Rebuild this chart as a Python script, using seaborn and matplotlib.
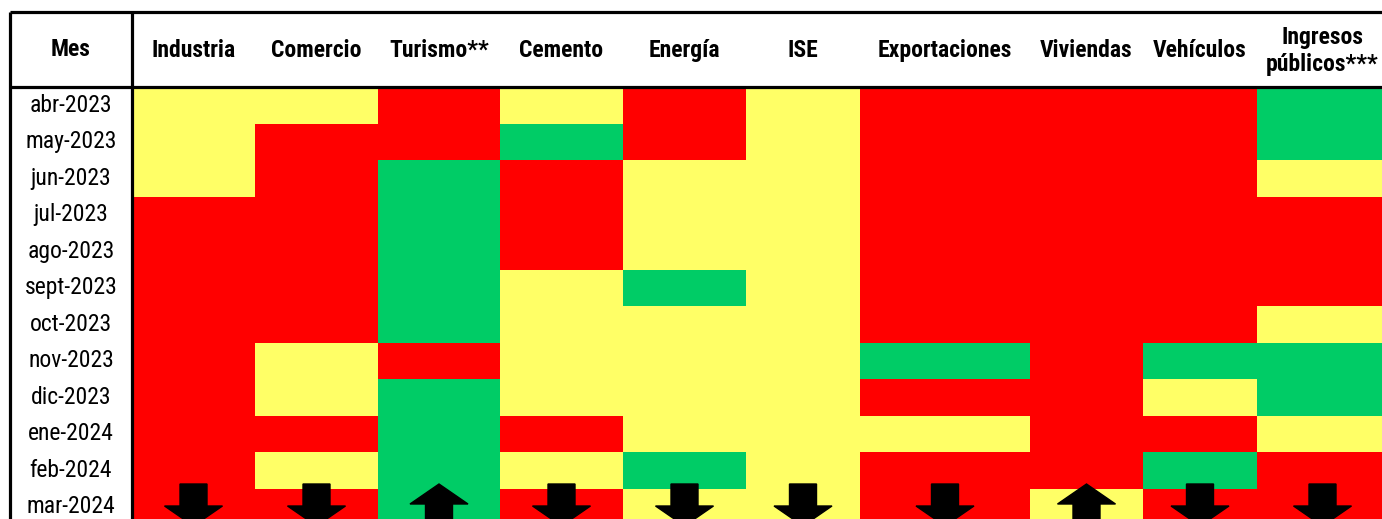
import pandas as pd
import matplotlib
matplotlib.use('Agg')
import matplotlib.pyplot as plt
import seaborn as sns
from matplotlib.colors import ListedColormap
from matplotlib import font_manager

meses = ['abr-2023', 'may-2023', 'jun-2023', 'jul-2023', 'ago-2023', 'sept-2023',
         'oct-2023', 'nov-2023', 'dic-2023', 'ene-2024', 'feb-2024', 'mar-2024']

indicadores = ['Industria', 'Comercio', 'Turismo**', 'Cemento', 'Energía', 'ISE',
               'Exportaciones', 'Viviendas', 'Vehículos', 'Ingresos\npúblicos***']

# R = rojo, A = amarillo, V = verde
industria     = ['A', 'A', 'A', 'R', 'R', 'R', 'R', 'R', 'R', 'R', 'R', 'R']
comercio      = ['A', 'R', 'R', 'R', 'R', 'R', 'R', 'A', 'A', 'R', 'A', 'R']
turismo       = ['R', 'R', 'V', 'V', 'V', 'V', 'V', 'R', 'V', 'V', 'V', 'V']
cemento       = ['A', 'V', 'R', 'R', 'R', 'A', 'A', 'A', 'A', 'R', 'A', 'R']
energia       = ['R', 'R', 'A', 'A', 'A', 'V', 'A', 'A', 'A', 'A', 'V', 'A']
ise           = ['A', 'A', 'A', 'A', 'A', 'A', 'A', 'A', 'A', 'A', 'A', 'A']
exportaciones = ['R', 'R', 'R', 'R', 'R', 'R', 'R', 'V', 'R', 'A', 'R', 'R']
viviendas     = ['R', 'R', 'R', 'R', 'R', 'R', 'R', 'R', 'R', 'R', 'R', 'A']
vehiculos     = ['R', 'R', 'R', 'R', 'R', 'R', 'R', 'V', 'A', 'R', 'V', 'R']
ingresos      = ['V', 'V', 'A', 'R', 'R', 'R', 'A', 'V', 'V', 'A', 'R', 'R']

# tendencia del ultimo mes
tendencia = ['baja', 'baja', 'sube', 'baja', 'baja', 'baja', 'baja', 'sube', 'baja', 'baja']

columnas = [industria, comercio, turismo, cemento, energia, ise,
            exportaciones, viviendas, vehiculos, ingresos]
codigo = {'R': 0, 'A': 1, 'V': 2}
df = pd.DataFrame({n: [codigo[c] for c in col] for n, col in zip(indicadores, columnas)},
                  index=meses)

# layout in pixels
W, H = 1382, 519
bordes = [132, 255, 378, 500, 623, 746, 860, 1030, 1143, 1257, 1388]
top, row_h = 87, 36.5
bottom = top + row_h * len(meses)

names = {f.name for f in font_manager.fontManager.ttflist}
fuente = next((f for f in ['Liberation Sans Narrow', 'Roboto Condensed', 'Archivo Narrow',
                           'PT Sans Narrow'] if f in names), 'DejaVu Sans')
plt.rcParams['font.family'] = [fuente, 'DejaVu Sans']
FS = 17

cmap = ListedColormap(['#FF0000', '#FFFF66', '#00CC66'])

fig = plt.figure(figsize=(W / 100, H / 100), dpi=100)


def rect(x0, y0, x1, y1):
    return [x0 / W, 1 - y1 / H, (x1 - x0) / W, (y1 - y0) / H]


for i, nombre in enumerate(indicadores):
    w = bordes[i + 1] - bordes[i]
    ax = fig.add_axes(rect(bordes[i], top, bordes[i + 1], bottom))
    sns.heatmap(df[[nombre]], ax=ax, cmap=cmap, vmin=-0.5, vmax=2.5, cbar=False,
                xticklabels=True, yticklabels=(i == 0))
    ax.set_xticklabels([nombre], rotation=0, fontweight='bold', fontsize=FS,
                       va='center', ha='center', linespacing=1.18)
    ax.xaxis.tick_top()
    ax.tick_params(axis='x', length=0, pad=26)
    if i == 0:
        ax.set_yticklabels(meses, rotation=0, ha='center', va='center', fontsize=FS)
        ax.tick_params(axis='y', length=0, pad=44)
    ax.set_xlabel('')
    ax.set_ylabel('')

    # flecha del ultimo mes
    n = len(meses)
    largo = 42 / row_h
    if tendencia[i] == 'baja':
        y0, dy = n - 1 - 4.5 / row_h, largo
    else:
        y0, dy = n - 1 - 4.5 / row_h + largo, -largo
    ax.arrow(0.5, y0, 0, dy, width=27 / w, head_width=58 / w, head_length=20 / row_h,
             length_includes_head=True, color='black', clip_on=False, zorder=5)

# marco de la tabla
frame = fig.add_axes([0, 0, 1, 1])
frame.set_xlim(0, W)
frame.set_ylim(H, 0)
frame.axis('off')
frame.patch.set_alpha(0)
lw = 2.3
frame.hlines([12, top], 10, W, color='black', lw=lw)
frame.vlines([10, 132], 12, H, color='black', lw=lw)
frame.text(71, 50, 'Mes', ha='center', va='center', fontsize=FS, fontweight='bold')

fig.savefig('out.png', dpi=100)
